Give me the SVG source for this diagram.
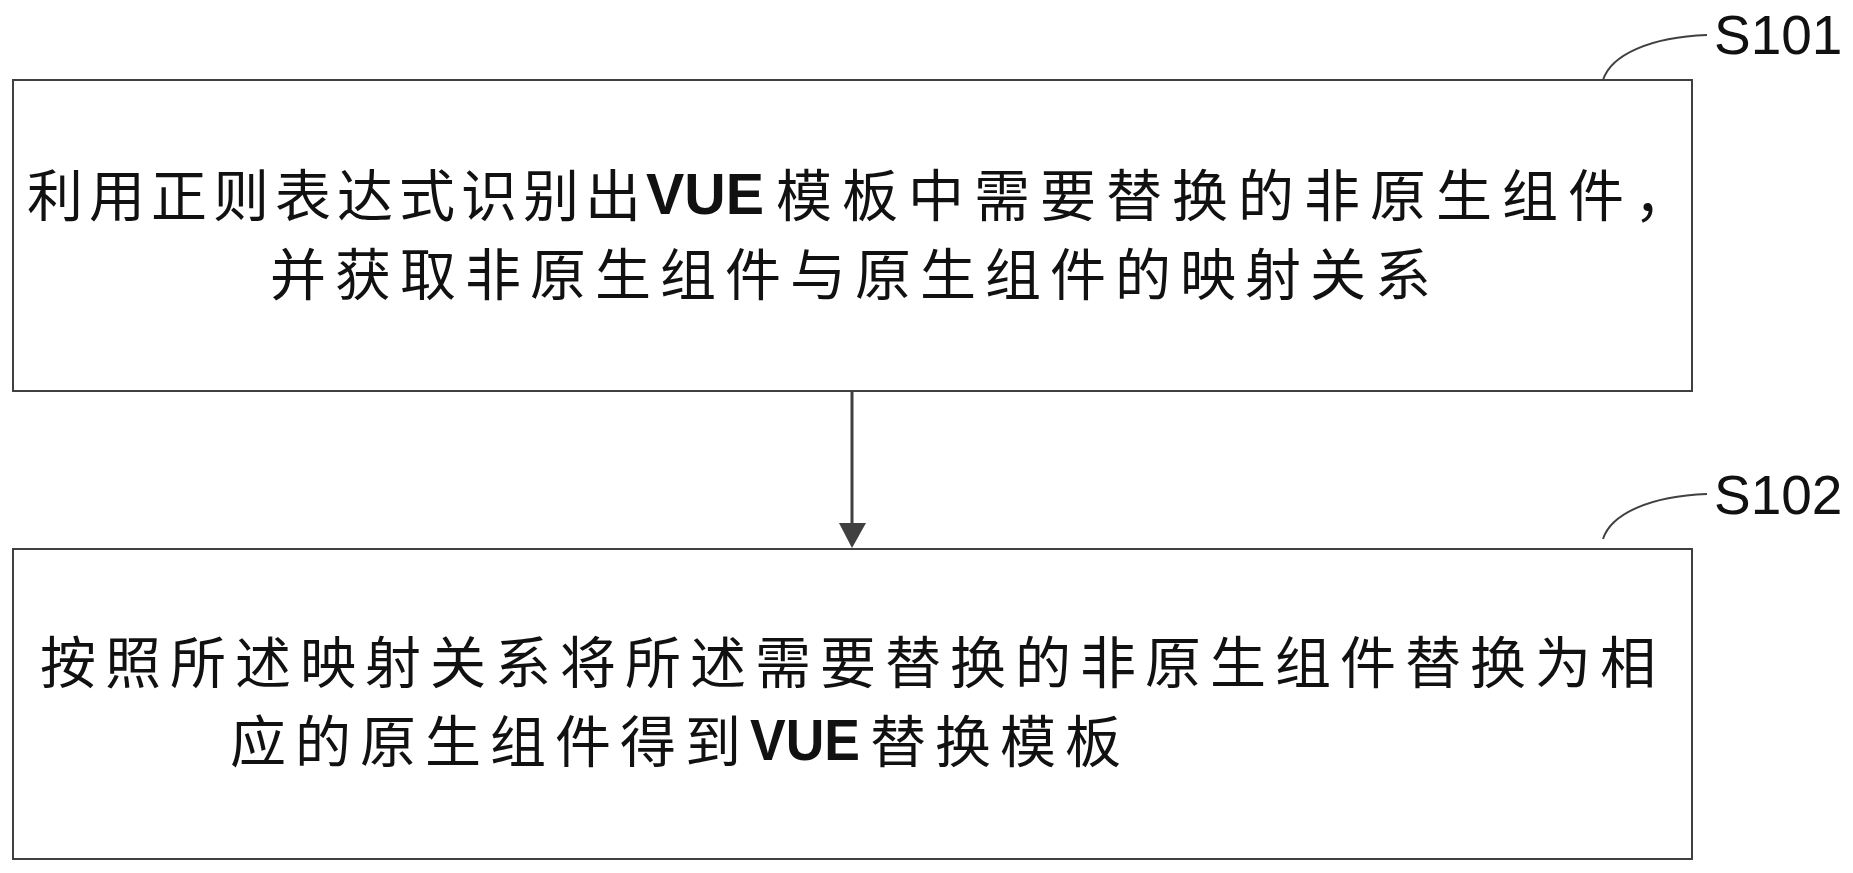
<svg xmlns="http://www.w3.org/2000/svg" width="1853" height="873" viewBox="0 0 1853 873">
<style>
.box{fill:#fff;stroke:#404040;stroke-width:2}
.cj{font-family:"Noto Sans CJK SC","Noto Sans CJK JP",sans-serif;font-size:56px;fill:#111;letter-spacing:9px}
.v{font-family:"Liberation Sans","DejaVu Sans",sans-serif;font-weight:bold;font-size:58px;fill:#111}
.lbl{font-family:"Liberation Sans","DejaVu Sans",sans-serif;font-size:55px;fill:#111}
.lead{fill:none;stroke:#404040;stroke-width:2}
.conn{stroke:#404040;stroke-width:3;fill:none}
</style>
<rect width="1853" height="873" fill="#fff"/>
<g id="S101">
<rect class="box" x="13" y="80" width="1679" height="311"/>
<path class="lead" d="M1603,80 C1611,55 1650,37 1707,35"/>
<text class="lbl" x="1714" y="54">S101</text>
<text class="cj" x="27" y="216" style="letter-spacing:6px">利用正则表达式识别出</text>
<text class="v" x="646" y="214" textLength="118" lengthAdjust="spacingAndGlyphs">VUE</text>
<text class="cj" x="776" y="216" style="letter-spacing:10px">模板中需要替换的非原生组件，</text>
<text class="cj" x="270" y="295">并获取非原生组件与原生组件的映射关系</text>
</g>
<g id="S102">
<rect class="box" x="13" y="549" width="1679" height="310"/>
<path class="lead" d="M1603,539 C1611,514 1650,496 1707,494"/>
<text class="lbl" x="1714" y="514">S102</text>
<text class="cj" x="40" y="683">按照所述映射关系将所述需要替换的非原生组件替换为相</text>
<text class="cj" x="230" y="762">应的原生组件得到</text>
<text class="v" x="750" y="760" textLength="110" lengthAdjust="spacingAndGlyphs">VUE</text>
<text class="cj" x="870" y="762">替换模板</text>
</g>
<g id="connectors">
<line class="conn" x1="852" y1="391" x2="852" y2="526"/>
<polygon points="839,523 866,523 852,548" fill="#404040"/>
</g>
</svg>
